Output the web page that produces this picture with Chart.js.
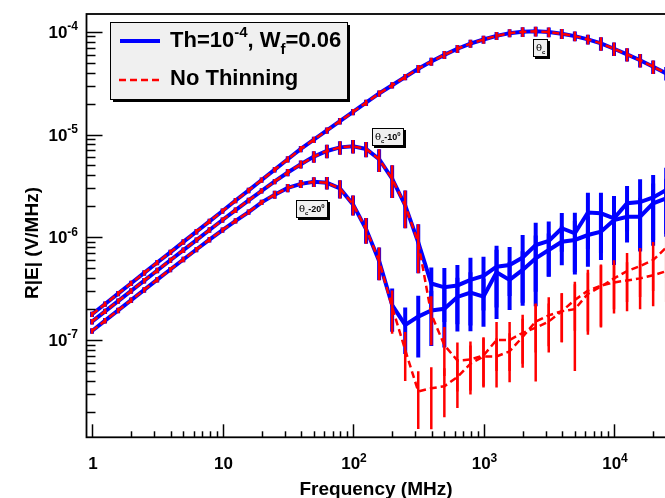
<!DOCTYPE html>
<html><head><meta charset="utf-8">
<script src="https://cdn.jsdelivr.net/npm/chart.js@4.4.0/dist/chart.umd.min.js"></script>
<style>html,body{margin:0;padding:0;background:#fff;overflow:hidden;width:665px;height:498px}
#wrap{position:relative;width:700px;height:498px}canvas{display:block}</style></head>
<body><div id="wrap"><canvas id="c" width="700" height="498"></canvas></div>
<script>
// Frequencies (MHz)
const freq = [1,1.259,1.585,1.995,2.512,3.162,3.981,5.012,6.310,7.943,
  10,12.59,15.85,19.95,25.12,31.62,39.81,50.12,63.10,79.43,
  100,125.9,158.5,199.5,251.2,316.2,398.1,501.2,631.0,794.3,
  1000,1259,1585,1995,2512,3162,3981,5012,6310,7943,
  10000,12589,15849,19953,25119];

// theta_c (thinned and unthinned coincide)
const thetaC = [1.78e-7,2.24e-7,2.83e-7,3.57e-7,4.50e-7,5.68e-7,7.14e-7,9.02e-7,1.135e-6,1.43e-6,
  1.80e-6,2.28e-6,2.86e-6,3.61e-6,4.55e-6,5.74e-6,7.24e-6,8.91e-6,1.096e-5,1.35e-5,
  1.66e-5,2.04e-5,2.51e-5,3.02e-5,3.63e-5,4.37e-5,5.13e-5,5.96e-5,6.84e-5,7.67e-5,
  8.41e-5,9.12e-5,9.70e-5,1.0e-4,1.01e-4,9.93e-5,9.57e-5,9.08e-5,8.43e-5,7.71e-5,
  6.84e-5,6.03e-5,5.28e-5,4.57e-5,3.94e-5];

// theta_c - 10 deg
const thetaC10Thin = [1.510e-7,1.901e-7,2.393e-7,3.006e-7,3.784e-7,4.753e-7,5.970e-7,7.499e-7,9.397e-7,1.178e-6,
  1.472e-6,1.837e-6,2.286e-6,2.831e-6,3.491e-6,4.266e-6,5.129e-6,6.095e-6,6.918e-6,7.499e-6,
  7.674e-6,7.244e-6,5.754e-6,3.715e-6,2.042e-6,8.913e-7,3.548e-7,3.258e-7,3.396e-7,3.846e-7,
  4.207e-7,5.176e-7,5.370e-7,6.353e-7,8.414e-7,9.204e-7,1.225e-6,1.094e-6,1.742e-6,1.710e-6,
  1.531e-6,2.143e-6,2.203e-6,2.438e-6,2.884e-6];
const thetaC10Full = [1.510e-7,1.901e-7,2.393e-7,3.006e-7,3.784e-7,4.753e-7,5.970e-7,7.499e-7,9.397e-7,1.178e-6,
  1.472e-6,1.837e-6,2.286e-6,2.831e-6,3.491e-6,4.266e-6,5.129e-6,6.095e-6,6.918e-6,7.499e-6,
  7.674e-6,7.244e-6,5.754e-6,3.715e-6,2.042e-6,8.913e-7,1.778e-7,8.913e-8,6.310e-8,6.457e-8,
  7.079e-8,1.0e-7,1.0e-7,1.175e-7,1.318e-7,1.514e-7,1.905e-7,1.995e-7,2.818e-7,3.311e-7,
  3.981e-7,4.677e-7,5.248e-7,6.0e-7,7.943e-7];

// theta_c - 20 deg
const thetaC20Thin = [1.225e-7,1.542e-7,1.941e-7,2.443e-7,3.076e-7,3.864e-7,4.853e-7,6.081e-7,7.603e-7,9.484e-7,
  1.175e-6,1.445e-6,1.758e-6,2.188e-6,2.600e-6,3.020e-6,3.311e-6,3.467e-6,3.388e-6,2.985e-6,
  2.089e-6,1.202e-6,5.888e-7,2.188e-7,1.403e-7,1.690e-7,1.941e-7,2.014e-7,2.624e-7,2.891e-7,
  2.642e-7,4.571e-7,3.846e-7,4.808e-7,6.252e-7,7.516e-7,9.057e-7,9.419e-7,1.052e-6,1.132e-6,
  1.472e-6,1.585e-6,1.585e-6,2.143e-6,2.393e-6];
const thetaC20Full = [1.225e-7,1.542e-7,1.941e-7,2.443e-7,3.076e-7,3.864e-7,4.853e-7,6.081e-7,7.603e-7,9.484e-7,
  1.175e-6,1.445e-6,1.758e-6,2.188e-6,2.600e-6,3.020e-6,3.311e-6,3.467e-6,3.388e-6,2.985e-6,
  2.089e-6,1.202e-6,5.888e-7,2.089e-7,7.998e-8,3.162e-8,3.388e-8,3.548e-8,4.365e-8,5.888e-8,
  6.918e-8,6.918e-8,7.762e-8,1.072e-7,1.514e-7,1.738e-7,1.905e-7,2.455e-7,3.020e-7,3.388e-7,
  3.631e-7,3.802e-7,3.981e-7,4.266e-7,4.677e-7];

// relative (symmetric) errors
const errC = [0.06,0.06,0.06,0.06,0.06,0.06,0.06,0.06,0.06,0.06,0.06,0.06,0.06,0.06,0.06,
  0.07,0.07,0.07,0.07,0.07,0.07,0.07,0.07,0.07,0.07,
  0.09,0.09,0.09,0.09,0.09,0.09,0.09,0.09,
  0.11,0.11,0.11,0.11,0.11,0.11,
  0.15,0.15,0.15,0.15,0.15,0.15];
const errC10Thin = [0.06,0.06,0.06,0.06,0.06,0.06,0.06,0.06,0.06,0.06,0.06,0.06,0.06,0.06,0.06,
  0.08,0.09,0.13,0.15,0.15,0.15,0.17,0.25,0.35,0.4,
  0.5,0.43,0.54,0.58,0.64,0.54,0.6,0.5,0.66,0.65,
  0.55,0.41,0.58,0.56,0.59,0.65,0.47,0.67,0.66,0.65];
const errC10Full = [0.06,0.06,0.06,0.06,0.06,0.06,0.06,0.06,0.06,0.06,0.06,0.06,0.06,0.06,0.06,
  0.08,0.09,0.13,0.15,0.15,0.15,0.17,0.25,0.35,0.4,
  0.5,0.5,0.5,0.5,0.5,0.5,0.5,0.5,0.5,0.7,
  0.5,0.5,0.75,0.6,0.6,0.5,0.5,0.5,0.5,0.5];
const errC20Thin = [0.06,0.06,0.06,0.06,0.06,0.06,0.06,0.06,0.06,0.06,0.06,0.06,0.06,0.06,
  0.09,0.09,0.09,0.11,0.14,0.2,0.22,0.28,0.35,0.45,
  0.48,0.6,0.55,0.58,0.54,0.58,0.49,0.65,0.49,0.52,
  0.66,0.45,0.41,0.54,0.51,0.47,0.54,0.44,0.53,0.56,0.55];
const errC20Full = [0.06,0.06,0.06,0.06,0.06,0.06,0.06,0.06,0.06,0.06,0.06,0.06,0.06,0.06,
  0.09,0.09,0.09,0.11,0.14,0.2,0.22,0.28,0.35,0.45,
  0.5,0.57,0.6,0.5,0.5,0.5,0.5,0.5,0.5,0.5,
  0.5,0.5,0.5,0.5,0.6,0.6,0.5,0.5,0.5,0.5,0.5];

const xTickValues = [1, 10, 100, 1000, 10000];
const xTickLabels = ['1', '10', '10^2', '10^3', '10^4'];
const yTickValues = [1e-7, 1e-6, 1e-5, 1e-4];
const yTickLabels = ['10^-7', '10^-6', '10^-5', '10^-4'];
const legendLabels = ['Th=10^-4, W_f=0.06', 'No Thinning'];
// curve annotation anchors (frequency, field value at box centre)
const curveLabels = [
  {text: 'θ_c', f: 2754, v: 6.94e-5},
  {text: 'θ_c-10^0', f: 184.5, v: 9.53e-6},
  {text: 'θ_c-20^0', f: 48.1, v: 1.88e-6}
];

const BLUE = '#0000ff', RED = '#ff0000';
const pts = arr => arr.map((v, i) => ({x: freq[i], y: v}));
function blueDs(label, arr, err) {
  return {label, data: pts(arr), err, borderColor: BLUE, borderWidth: 4, pointRadius: 0, fill: false, tension: 0, order: 1, barW: 4, barColor: BLUE};
}
function redDs(label, arr, err) {
  return {label, data: pts(arr), err, borderColor: RED, borderWidth: 2.5, borderDash: [7, 4], pointRadius: 0, fill: false, tension: 0, order: 0, barW: 2.5, barColor: RED};
}

function splitLabel(str) {
  const parts = []; const re = /(\^[-0-9]+|_[a-z]+)/g; let last = 0, m;
  while ((m = re.exec(str))) {
    if (m.index > last) parts.push({t: str.slice(last, m.index), k: 'n'});
    parts.push({t: m[0].slice(1), k: m[0][0] === '^' ? 'sup' : 'sub'});
    last = m.index + m[0].length;
  }
  if (last < str.length) parts.push({t: str.slice(last), k: 'n'});
  return parts;
}
function drawRich(ctx, str, x, y, size, align) {
  const parts = splitLabel(str);
  const fam = '"Liberation Sans", Arial, sans-serif';
  const small = Math.round(size * 0.68);
  let w = 0;
  parts.forEach(p => { ctx.font = 'bold ' + (p.k === 'n' ? size : small) + 'px ' + fam; p.w = ctx.measureText(p.t).width; w += p.w; });
  let cx = align === 'right' ? x - w : align === 'center' ? x - w / 2 : x;
  ctx.textAlign = 'left'; ctx.textBaseline = 'alphabetic';
  parts.forEach(p => {
    ctx.font = 'bold ' + (p.k === 'n' ? size : small) + 'px ' + fam;
    const dy = p.k === 'sup' ? -size * 0.45 : p.k === 'sub' ? size * 0.3 : 0;
    ctx.fillText(p.t, cx, y + dy);
    cx += p.w;
  });
  return w;
}
function smallSegs(str) {
  const out = [];
  splitLabel(str).forEach(p => {
    if (p.k === 'n' && p.t.startsWith('θ')) { out.push({t: 'θ', k: 'g'}); if (p.t.length > 1) out.push({t: p.t.slice(1), k: 'n'}); }
    else out.push(p);
  });
  return out;
}
function smallFont(s) {
  if (s.k === 'g') return '10px "DejaVu Serif", serif';
  return 'bold ' + (s.k === 'n' ? 9 : 6) + 'px "Liberation Sans", Arial, sans-serif';
}
function measureSmall(ctx, str) {
  let w = 0;
  smallSegs(str).forEach(s => { ctx.font = smallFont(s); w += ctx.measureText(s.t).width; });
  return w;
}
function drawSmall(ctx, str, x, y) {
  let cx = x; ctx.textAlign = 'left'; ctx.textBaseline = 'alphabetic';
  smallSegs(str).forEach(s => {
    ctx.font = smallFont(s);
    const dy = s.k === 'sup' ? -4 : s.k === 'sub' ? 3 : 0;
    ctx.fillText(s.t, cx, y + dy);
    cx += ctx.measureText(s.t).width;
  });
}

const rootPlugin = {
  id: 'rootStyle',
  afterDatasetDraw(chart, args) {
    const ds = chart.data.datasets[args.index];
    const xs = chart.scales.x, ys = chart.scales.y, ca = chart.chartArea;
    const ctx = chart.ctx;
    ctx.save();
    ctx.beginPath(); ctx.rect(ca.left, ca.top, ca.right - ca.left, ca.bottom - ca.top); ctx.clip();
    ctx.strokeStyle = ds.barColor; ctx.lineWidth = ds.barW; ctx.setLineDash([]);
    ds.data.forEach((p, i) => {
      const e = ds.err[i] * p.y;
      const lo = Math.max(p.y - e, ys.min * 0.5), hi = p.y + e;
      const px = xs.getPixelForValue(p.x);
      ctx.beginPath();
      ctx.moveTo(px, ys.getPixelForValue(hi));
      ctx.lineTo(px, ys.getPixelForValue(lo));
      ctx.stroke();
    });
    ctx.restore();
  },
  afterDraw(chart) {
    const ctx = chart.ctx, xs = chart.scales.x, ys = chart.scales.y, ca = chart.chartArea;
    ctx.save();
    ctx.strokeStyle = '#000'; ctx.fillStyle = '#000'; ctx.setLineDash([]);
    ctx.lineWidth = 1.8;
    ctx.strokeRect(ca.left, ca.top, ca.right - ca.left, ca.bottom - ca.top);
    ctx.lineWidth = 1.5;
    for (let d = -9; d <= -3; d++) {
      for (let m = 1; m <= 9; m++) {
        const v = m * Math.pow(10, d);
        if (v < ys.min || v > ys.max) continue;
        const py = Math.round(ys.getPixelForValue(v)) + 0.5;
        ctx.beginPath(); ctx.moveTo(ca.left, py); ctx.lineTo(ca.left + (m === 1 ? 16 : 9), py); ctx.stroke();
      }
    }
    for (let d = -1; d <= 5; d++) {
      for (let m = 1; m <= 9; m++) {
        const v = m * Math.pow(10, d);
        if (v < xs.min || v > xs.max) continue;
        const px = Math.round(xs.getPixelForValue(v)) + 0.5;
        ctx.beginPath(); ctx.moveTo(px, ca.bottom); ctx.lineTo(px, ca.bottom - (m === 1 ? 13 : 6)); ctx.stroke();
      }
    }
    ctx.fillStyle = '#000';
    xTickValues.forEach((v, i) => drawRich(ctx, xTickLabels[i], xs.getPixelForValue(v) + 1, ca.bottom + 32, 17, 'center'));
    yTickValues.forEach((v, i) => drawRich(ctx, yTickLabels[i], 78, ys.getPixelForValue(v) + 6, 17, 'right'));
    drawRich(ctx, 'Frequency (MHz)', 376, 495, 19, 'center');
    ctx.save(); ctx.translate(38, 243); ctx.rotate(-Math.PI / 2);
    drawRich(ctx, 'R|E| (V/MHz)', 0, 0, 19, 'center');
    ctx.restore();
    // legend box
    const lx = 110, ly = 22, lw = 237, lh = 77;
    ctx.fillStyle = '#000'; ctx.fillRect(lx + 3, ly + 3, lw, lh);
    ctx.fillStyle = '#f0f0f0'; ctx.fillRect(lx, ly, lw, lh);
    ctx.lineWidth = 1; ctx.strokeStyle = '#000'; ctx.strokeRect(lx + 0.5, ly + 0.5, lw, lh);
    ctx.lineWidth = 4; ctx.strokeStyle = BLUE;
    ctx.beginPath(); ctx.moveTo(120, 41); ctx.lineTo(160, 41); ctx.stroke();
    ctx.lineWidth = 2.5; ctx.strokeStyle = RED; ctx.setLineDash([7, 4]);
    ctx.beginPath(); ctx.moveTo(119, 80); ctx.lineTo(162, 80); ctx.stroke();
    ctx.setLineDash([]);
    ctx.fillStyle = '#000';
    drawRich(ctx, legendLabels[0], 170, 47, 22, 'left');
    drawRich(ctx, legendLabels[1], 170, 85, 22, 'left');
    // curve annotation boxes
    curveLabels.forEach(c => {
      const px = xs.getPixelForValue(c.f), py = ys.getPixelForValue(c.v);
      const w = Math.round(measureSmall(ctx, c.text) + 6), h = 18;
      const bx = Math.round(px - w / 2), by = Math.round(py - h / 2);
      ctx.fillStyle = '#000'; ctx.fillRect(bx + 2, by + 2, w, h);
      ctx.fillStyle = '#f0f0f0'; ctx.fillRect(bx, by, w, h);
      ctx.lineWidth = 1; ctx.strokeStyle = '#000'; ctx.strokeRect(bx + 0.5, by + 0.5, w - 1, h - 1);
      ctx.fillStyle = '#000';
      drawSmall(ctx, c.text, bx + 3, by + 12);
    });
    ctx.restore();
  }
};

new Chart(document.getElementById('c').getContext('2d'), {
  type: 'line',
  data: {datasets: [
    redDs('No Thinning', thetaC, errC),
    redDs('No Thinning', thetaC10Full, errC10Full),
    redDs('No Thinning', thetaC20Full, errC20Full),
    blueDs('Th=1e-4, Wf=0.06', thetaC, errC),
    blueDs('Th=1e-4, Wf=0.06', thetaC10Thin, errC10Thin),
    blueDs('Th=1e-4, Wf=0.06', thetaC20Thin, errC20Thin)
  ]},
  options: {
    responsive: false, animation: false, devicePixelRatio: 1,
    layout: {padding: {top: 14, right: 0, left: 0, bottom: 0}},
    plugins: {legend: {display: false}, tooltip: {enabled: false}},
    scales: {
      x: {type: 'logarithmic', min: 0.9075, max: 45604, ticks: {display: false}, grid: {display: false}, border: {display: false},
          afterFit(s) { s.height = 60.7; }},
      y: {type: 'logarithmic', min: 1.13e-8, max: 1.49e-4, ticks: {display: false}, grid: {display: false}, border: {display: false},
          afterFit(s) { s.width = 86.5; }}
    }
  },
  plugins: [rootPlugin]
});
</script></body></html>
